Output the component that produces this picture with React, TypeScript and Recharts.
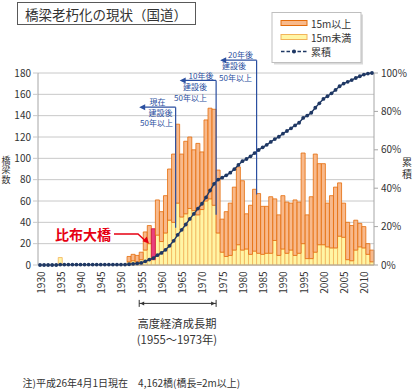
import React from "react";
import {
  ComposedChart,
  Bar,
  Line,
  XAxis,
  YAxis,
  CartesianGrid,
  ReferenceLine,
  Cell,
} from "recharts";

const FONT = "'Noto Sans CJK JP', 'Noto Sans', sans-serif";
const NAVY = "#1F3864";
const ORANGE_FILL = "#F8B98B";
const ORANGE_STROKE = "#E46C0A";
const YELLOW_FILL = "#FFF5A5";
const YELLOW_STROKE = "#F2B45A";
const BLUE = "#2B4FA0";
const RED = "#E60012";
const PINK = "#E8407E";

// 建設年度
const years = [
  1930, 1931, 1932, 1933, 1934, 1935, 1936, 1937, 1938, 1939,
  1940, 1941, 1942, 1943, 1944, 1945, 1946, 1947, 1948, 1949,
  1950, 1951, 1952, 1953, 1954, 1955, 1956, 1957, 1958, 1959,
  1960, 1961, 1962, 1963, 1964, 1965, 1966, 1967, 1968, 1969,
  1970, 1971, 1972, 1973, 1974, 1975, 1976, 1977, 1978, 1979,
  1980, 1981, 1982, 1983, 1984, 1985, 1986, 1987, 1988, 1989,
  1990, 1991, 1992, 1993, 1994, 1995, 1996, 1997, 1998, 1999,
  2000, 2001, 2002, 2003, 2004, 2005, 2006, 2007, 2008, 2009,
  2010, 2011, 2012,
];

// 15m未満
const under15 = [
  0, 0, 0, 0, 0, 7, 0, 0, 0, 0,
  0, 0, 0, 0, 0, 0, 0, 0, 0, 0,
  0, 0, 3, 4, 3, 5, 14, 20, 5, 28,
  22, 30, 42, 40, 58, 45, 48, 53, 51, 47,
  52, 60, 62, 56, 30, 12, 8, 9, 14, 19,
  14, 15, 10, 13, 11, 10, 11, 11, 23, 9,
  15, 11, 14, 9, 11, 20, 6, 6, 12, 19,
  19, 17, 16, 16, 27, 26, 5, 4, 14, 17,
  16, 10, 3,
];

// 15m以上
const over15 = [
  0, 0, 0, 0, 0, 0, 0, 0, 0, 0,
  0, 0, 0, 0, 0, 0, 0, 0, 0, 0,
  0, 0, 5, 6, 6, 7, 17, 17, 29, 33,
  28, 35, 48, 64, 74, 59, 68, 67, 57, 67,
  54, 76, 85, 90, 59, 31, 42, 49, 59, 73,
  65, 33, 46, 58, 56, 45, 44, 53, 39, 38,
  50, 48, 44, 52, 48, 85, 41, 58, 92, 76,
  76, 41, 49, 57, 50, 32, 35, 33, 28, 22,
  20, 10, 11,
];

// 累積 (%)
const cumulative = [
  0, 0, 0, 0, 0, 0.2, 0.2, 0.2, 0.2, 0.2,
  0.2, 0.2, 0.2, 0.2, 0.2, 0.2, 0.2, 0.2, 0.2, 0.2,
  0.2, 0.2, 0.4, 0.6, 0.8, 1.1, 1.9, 2.8, 3.6, 5.1,
  6.3, 7.9, 10.0, 12.6, 15.7, 18.3, 21.1, 24.0, 26.6, 29.4,
  31.9, 35.2, 38.8, 42.3, 44.5, 45.5, 46.7, 48.1, 49.9, 52.1,
  54.1, 55.2, 56.6, 58.3, 59.9, 61.3, 62.6, 64.1, 65.6, 66.8,
  68.4, 69.8, 71.2, 72.7, 74.1, 76.6, 77.8, 79.3, 81.9, 84.2,
  86.5, 87.9, 89.4, 91.2, 93.1, 94.5, 95.4, 96.3, 97.4, 98.3,
  99.2, 99.7, 100,
];

const leftTicks = [0, 20, 40, 60, 80, 100, 120, 140, 160, 180];
const rightTicks = [0, 20, 40, 60, 80, 100];

const pippuYear = 1958; // 比布大橋

// 現在 / 10年後 / 20年後 の建設後50年ライン
const milestones = [
  { from: 1955, at: 1964, top: 148, bottom: 35 },
  { from: 1965, at: 1974, top: 173, bottom: 47 },
  { from: 1975, at: 1984, top: 192, bottom: 66 },
];

const data = years.map((year, i) => ({
  year,
  under15: under15[i],
  over15: over15[i],
  cumulative: cumulative[i],
}));

const YearTick = (props: any) => {
  const { x, y, payload } = props;
  if (payload.value % 5 !== 0) return <g />;
  return (
    <text
      transform={`translate(${x},${y + 6.5}) rotate(-90)`}
      textAnchor="end"
      dominantBaseline="central"
      fontSize={10}
      fill="#333"
      fontFamily={FONT}
    >
      {payload.value}
    </text>
  );
};

const ArrowLeft = (p: any) => {
  const { x1, y1, x2 } = p;
  return (
    <g>
      <line x1={x1 + 4} y1={y1} x2={x2} y2={y1} stroke={BLUE} strokeWidth={1.2} />
      <polygon
        points={`${x1},${y1} ${x1 + 6},${y1 - 3} ${x1 + 6},${y1 + 3}`}
        fill={BLUE}
      />
    </g>
  );
};

const Bracket = (p: any) => {
  const { x1, y1, x2 } = p;
  return (
    <g stroke="#333" strokeWidth={1}>
      <line x1={x1} y1={y1} x2={x2} y2={y1} />
      <line x1={x1} y1={y1 - 3.5} x2={x1} y2={y1 + 3.5} />
      <line x1={x2} y1={y1 - 3.5} x2={x2} y2={y1 + 3.5} />
      <polygon
        points={`${x1 + 1},${y1} ${x1 + 5},${y1 - 2} ${x1 + 5},${y1 + 2}`}
        fill="#333"
        stroke="none"
      />
      <polygon
        points={`${x2 - 1},${y1} ${x2 - 5},${y1 - 2} ${x2 - 5},${y1 + 2}`}
        fill="#333"
        stroke="none"
      />
    </g>
  );
};

const milestoneLines = milestones.flatMap((m) => [
  <ReferenceLine
    key={`v${m.at}`}
    yAxisId="left"
    position="start"
    ifOverflow="visible"
    stroke={BLUE}
    strokeWidth={1.2}
    segment={[
      { x: m.at, y: m.top },
      { x: m.at, y: m.bottom },
    ]}
  />,
  <ReferenceLine
    key={`h${m.at}`}
    yAxisId="left"
    position="start"
    ifOverflow="visible"
    shape={ArrowLeft}
    segment={[
      { x: m.from, y: m.top },
      { x: m.at, y: m.top },
    ]}
  />,
]);

const blueText = {
  fontSize: 8,
  fill: BLUE,
  fontFamily: FONT,
  textAnchor: "middle" as const,
  dominantBaseline: "central" as const,
};

export default function App() {
  return (
    <div
      style={{
        position: "absolute",
        left: 0,
        top: 0,
        width: 413,
        height: 389,
        background: "#fff",
        fontFamily: FONT,
      }}
    >
      <ComposedChart
        width={413}
        height={389}
        data={data}
        margin={{ top: 73, right: 0, bottom: 0, left: 0 }}
        barCategoryGap={0}
      >
        <CartesianGrid yAxisId="left" vertical={false} stroke="#C8C8C8" />
        <XAxis
          dataKey="year"
          type="category"
          interval={0}
          height={124}
          tickLine={false}
          tickSize={0}
          tickMargin={0}
          axisLine={{ stroke: "#A6A6A6" }}
          tick={YearTick}
        />
        <YAxis
          yAxisId="left"
          orientation="left"
          width={38}
          domain={[0, 180]}
          ticks={leftTicks}
          interval={0}
          tickSize={5}
          tickMargin={2}
          tickLine={{ stroke: "#C8C8C8" }}
          axisLine={{ stroke: "#A6A6A6" }}
          tick={{ fontSize: 10, fill: "#333", fontFamily: FONT }}
        />
        <YAxis
          yAxisId="right"
          orientation="right"
          width={39}
          domain={[0, 100]}
          ticks={rightTicks}
          interval={0}
          tickSize={4}
          tickMargin={3}
          tickLine={{ stroke: "#A6A6A6" }}
          axisLine={{ stroke: "#A6A6A6" }}
          tickFormatter={(v: number) => `${v}%`}
          tick={{ fontSize: 10, fill: "#333", fontFamily: FONT }}
        />
        <Bar
          yAxisId="left"
          dataKey="under15"
          stackId="a"
          fill={YELLOW_FILL}
          stroke={YELLOW_STROKE}
          strokeWidth={0.8}
          isAnimationActive={false}
        />
        <Bar
          yAxisId="left"
          dataKey="over15"
          stackId="a"
          fill={ORANGE_FILL}
          stroke={ORANGE_STROKE}
          strokeWidth={0.8}
          isAnimationActive={false}
        >
          {data.map((d) => (
            <Cell
              key={d.year}
              fill={d.year === pippuYear ? PINK : ORANGE_FILL}
              stroke={d.year === pippuYear ? "#D0103A" : ORANGE_STROKE}
            />
          ))}
        </Bar>
        <Line
          yAxisId="right"
          dataKey="cumulative"
          stroke={NAVY}
          strokeWidth={1.4}
          dot={{ r: 1.9, fill: NAVY, stroke: NAVY, strokeWidth: 0 }}
          activeDot={false}
          isAnimationActive={false}
        />
        {milestoneLines}
        <ReferenceLine
          yAxisId="left"
          position="start"
          ifOverflow="visible"
          shape={Bracket}
          segment={[
            { x: 1955, y: -36 },
            { x: 1974, y: -36 },
          ]}
        />
      </ComposedChart>

      <svg
        width={413}
        height={389}
        style={{ position: "absolute", left: 0, top: 0, pointerEvents: "none" }}
        fontFamily={FONT}
      >
        {/* title */}
        <rect x={17.5} y={2.5} width={178} height={22} fill="#fff" stroke="#595959" />
        <text x={25} y={13.8} fontSize={13.5} fill="#333" dominantBaseline="central">
          橋梁老朽化の現状（国道）
        </text>

        {/* legend */}
        <rect x={274} y={14.5} width={89} height={50} fill="#D9D9D9" />
        <rect x={272} y={12.5} width={89} height={50} fill="#fff" stroke="#BFBFBF" />
        <rect x={281} y={20.5} width={26} height={5} fill={ORANGE_FILL} stroke={ORANGE_STROKE} />
        <text x={311} y={23} fontSize={10} fill="#333" dominantBaseline="central">15m以上</text>
        <rect x={281} y={34.5} width={26} height={5} fill={YELLOW_FILL} stroke={YELLOW_STROKE} />
        <text x={311} y={37} fontSize={10} fill="#333" dominantBaseline="central">15m未満</text>
        <line x1={281} y1={51.5} x2={307} y2={51.5} stroke={NAVY} strokeWidth={1.6} strokeDasharray="3.5 2" />
        <circle cx={294} cy={51.5} r={2} fill={NAVY} />
        <text x={311} y={51.5} fontSize={10} fill="#333" dominantBaseline="central">累積</text>

        {/* axis titles, written top to bottom */}
        <text
          x={6}
          y={156}
          fontSize={9}
          fill="#333"
          textAnchor="start"
          style={{ writingMode: "vertical-rl", letterSpacing: 0.5 }}
        >
          橋梁数
        </text>
        <text
          x={407}
          y={157.5}
          fontSize={10}
          fill="#333"
          textAnchor="start"
          style={{ writingMode: "vertical-rl", letterSpacing: 1.3 }}
        >
          累積
        </text>

        {/* milestone labels */}
        <text x={157.5} y={101.2} {...blueText}>現在</text>
        <text x={160.5} y={112} {...blueText}>建設後</text>
        <text x={156.5} y={122.9} {...blueText}>50年以上</text>
        <text x={201} y={75} {...blueText}>10年後</text>
        <text x={195} y={86} {...blueText}>建設後</text>
        <text x={190.5} y={97.2} {...blueText}>50年以上</text>
        <text x={240.5} y={54.6} {...blueText}>20年後</text>
        <text x={234} y={65.8} {...blueText}>建設後</text>
        <text x={235.5} y={77} {...blueText}>50年以上</text>

        {/* 比布大橋 */}
        <text x={55} y={233.5} fontSize={14} fontWeight="bold" fill={RED} dominantBaseline="central">
          比布大橋
        </text>
        <polyline points="114,234 138,234 145,240.5" fill="none" stroke={RED} strokeWidth={1.4} />
        <polygon points="149,243.5 142.5,241.2 146.8,236.6" fill={RED} />

        {/* 高度経済成長期 */}
        <g fontSize={11.3} fill="#333" textAnchor="middle" dominantBaseline="central">
          <text x={177} y={323}>高度経済成長期</text>
          <text x={177} y={338.5}>(1955～1973年)</text>
        </g>

        {/* note */}
        <text x={22.5} y={382} fontSize={10} fill="#333" dominantBaseline="central">
          注)平成26年4月1日現在　4,162橋(橋長=2m以上)
        </text>
      </svg>
    </div>
  );
}
